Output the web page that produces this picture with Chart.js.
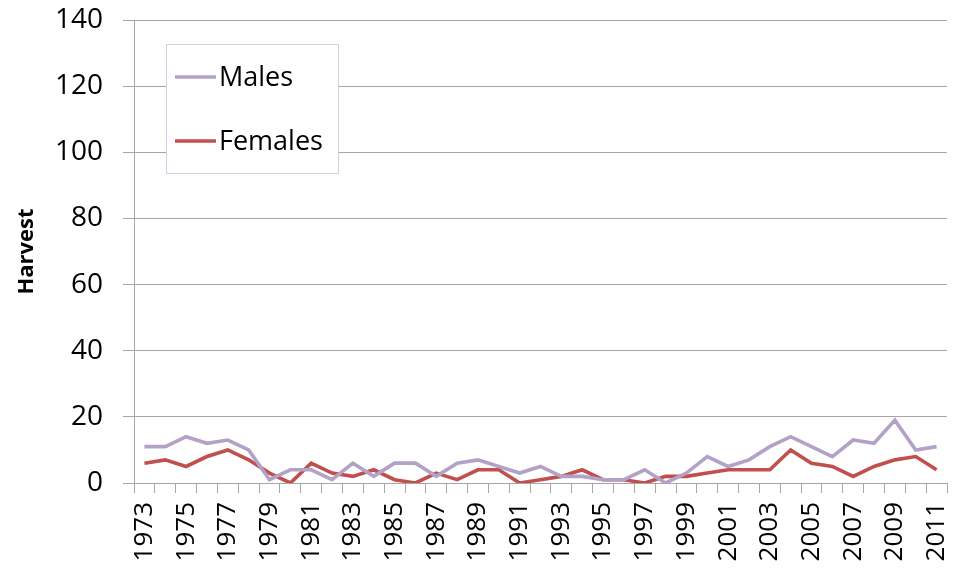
<!DOCTYPE html>
<html>
<head>
<meta charset="utf-8">
<script src="https://cdn.jsdelivr.net/npm/chart.js@4"></script>
<style>
html,body{margin:0;padding:0;background:#fff;}
#wrap{width:961px;height:571px;position:relative;}
</style>
</head>
<body>
<div id="wrap"><canvas id="c" width="961" height="571"></canvas></div>
<script>
const years = [1973,1974,1975,1976,1977,1978,1979,1980,1981,1982,1983,1984,1985,1986,1987,1988,1989,1990,1991,1992,1993,1994,1995,1996,1997,1998,1999,2000,2001,2002,2003,2004,2005,2006,2007,2008,2009,2010,2011];
const males = [11,11,14,12,13,10,1,4,4,1,6,2,6,6,2,6,7,5,3,5,2,2,1,1,4,0,3,8,5,7,11,14,11,8,13,12,19,10,11];
const females = [6,7,5,8,10,7,3,0,6,3,2,4,1,0,3,1,4,4,0,1,2,4,1,1,0,2,2,3,4,4,4,10,6,5,2,5,7,8,4];
const yTicks = [0,20,40,60,80,100,120,140];

const FONT = '"Open Sans", Lato, sans-serif';
const GRID = '#a6a6a6';

const legendBox = {
  id: 'legendBox',
  afterDatasetsDraw(chart) {
    const ctx = chart.ctx;
    const x0 = 166.5, y0 = 44.5, w = 172, h = 129;
    ctx.save();
    ctx.fillStyle = '#ffffff';
    ctx.fillRect(x0, y0, w, h);
    ctx.strokeStyle = '#d5cfe3';
    ctx.lineWidth = 1;
    ctx.strokeRect(x0, y0, w, h);
    const rows = [77, 141];
    chart.data.datasets.forEach((ds, i) => {
      const y = rows[i];
      ctx.strokeStyle = ds.borderColor;
      ctx.lineWidth = 3.5;
      ctx.beginPath();
      ctx.moveTo(175, y);
      ctx.lineTo(216, y);
      ctx.stroke();
      ctx.fillStyle = '#000';
      ctx.font = '27px ' + FONT;
      ctx.textBaseline = 'middle';
      ctx.textAlign = 'left';
      ctx.fillText(ds.label, 219, y + 1);
    });
    ctx.restore();
  }
};

new Chart(document.getElementById('c'), {
  type: 'line',
  data: {
    labels: years.map(String),
    datasets: [
      { label: 'Males', data: males, borderColor: '#b3a2c7', backgroundColor: '#b3a2c7', borderWidth: 3.6, pointRadius: 0, tension: 0 },
      { label: 'Females', data: females, borderColor: '#c0504d', backgroundColor: '#c0504d', borderWidth: 3.6, pointRadius: 0, tension: 0 }
    ]
  },
  options: {
    responsive: false,
    animation: false,
    layout: { padding: { top: 20, right: 14, left: 0, bottom: 0 } },
    plugins: { legend: { display: false }, tooltip: { enabled: false } },
    scales: {
      x: {
        offset: true,
        grid: { offset: true, drawOnChartArea: false, color: GRID, tickLength: 10, tickColor: GRID },
        border: { color: GRID, width: 1 },
        ticks: {
          autoSkip: false, maxRotation: 90, minRotation: 90, padding: 9,
          color: '#000', font: { family: FONT, size: 26 },
          callback: function(v, i) { return i % 2 === 0 ? years[i] : ''; }
        },
        afterFit: function(s) { s.height = 88; s.paddingLeft = 0; s.paddingRight = 0; }
      },
      y: {
        min: 0, max: 140,
        afterBuildTicks: function(s) { s.ticks = yTicks.map(v => ({ value: v })); },
        grid: { color: GRID, tickLength: 11, tickColor: GRID },
        border: { color: GRID, width: 1 },
        ticks: { padding: 20, color: '#000', font: { family: FONT, size: 28 } },
        title: { display: true, text: 'Harvest', color: '#000', font: { family: FONT, size: 22, weight: 'bold' }, padding: { top: 14, bottom: 0 } },
        afterFit: function(s) { s.width = 134; s.paddingTop = 0; s.paddingBottom = 0; }
      }
    }
  },
  plugins: [legendBox]
});
</script>
</body>
</html>
